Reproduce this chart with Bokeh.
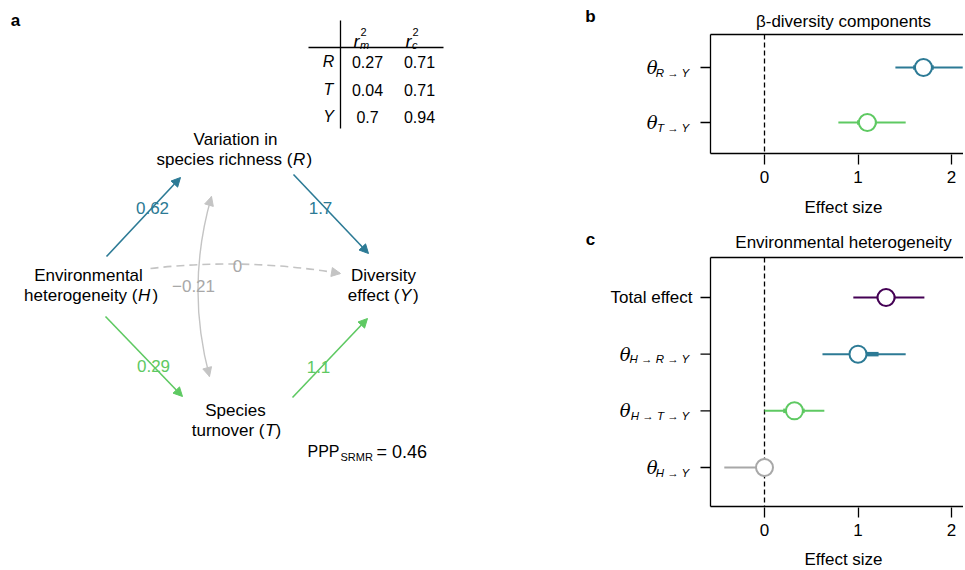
from bokeh.plotting import figure
from bokeh.models import Range1d, Arrow, NormalHead, FixedTicker, ColumnDataSource
from bokeh.layouts import row, column
from bokeh.core.properties import value
from bokeh.embed import file_html
from bokeh.resources import INLINE

# ---------------- data ----------------
# panel a: path coefficients (H->R, R->Y, H->T, T->Y, H->Y, R<->T)
path_coef = [0.62, 1.7, 0.29, 1.1, 0.0, -0.21]
r2_vars = ["R", "T", "Y"]
r2_marginal = [0.27, 0.04, 0.7]
r2_conditional = [0.71, 0.71, 0.94]
ppp_srmr = 0.46

# panel b: beta-diversity components
b_subs = ["R \u2192 Y", "T \u2192 Y"]
b_pos = [2, 1]
b_est = [1.70, 1.10]
b_lo95 = [1.40, 0.79]
b_hi95 = [2.12, 1.51]
b_lo50 = [1.59, 0.99]
b_hi50 = [1.81, 1.20]

# panel c: environmental heterogeneity
c_labels = ["Total effect", "H \u2192 R \u2192 Y", "H \u2192 T \u2192 Y", "H \u2192 Y"]
c_pos = [4, 3, 2, 1]
c_est = [1.30, 1.00, 0.32, 0.00]
c_lo95 = [0.95, 0.62, 0.00, -0.43]
c_hi95 = [1.71, 1.51, 0.64, 0.03]
c_lo50 = [1.20, 0.91, 0.20, -0.05]
c_hi50 = [1.40, 1.22, 0.43, 0.02]

x_ticks = [0, 1, 2]

# ---------------- styles ----------------
PURPLE = "#440154"
BLUE = "#2C7A95"
GREEN = "#5EC962"
GRAY = "#A8A8A8"
LGRAY = "#C4C4C4"
SANS = "Liberation Sans"
SERIF = "DejaVu Serif"

b_colors = [BLUE, GREEN]
c_colors = [PURPLE, BLUE, GREEN, GRAY]


def fmt(v):
    return f"{v:g}".replace("-", "\u2212")


def txt(p, x, y, s, size="17px", color="black", style="normal", align="center",
        baseline="middle", font=SANS, xo=0, yo=0):
    p.text(x=[x], y=[y], text=[s], text_font=value(font), text_font_size=size,
           text_color=color, text_font_style=style, text_align=align,
           text_baseline=baseline, x_offset=xo, y_offset=yo)


# ---------------- panel a (diagram, pixel-like layout space) ----------------
pa = figure(width=580, height=568, x_range=Range1d(0, 580), y_range=Range1d(568, 0),
            output_backend="svg", toolbar_location=None, min_border=0)
pa.axis.visible = False
pa.grid.visible = False
pa.outline_line_color = None
pa.background_fill_color = "white"
pa.border_fill_color = "white"

txt(pa, 15, 20, "a", size="17px", style="bold")

# table of r2
pa.segment(x0=[340, 308], y0=[20, 47], x1=[340, 443], y1=[128, 47],
           line_color="black", line_width=1.3)
col_x = [367, 419]
row_y = [61, 89, 116]
for cx, sub in zip([353, 405], ["m", "c"]):
    txt(pa, cx, 41, "r", size="18px", style="italic", align="left", baseline="alphabetic")
    txt(pa, cx + 6.5, 44, sub, size="11px", style="italic", align="left", baseline="alphabetic")
    txt(pa, cx + 7, 31, "2", size="11px", align="left", baseline="alphabetic")
for i, v in enumerate(r2_vars):
    txt(pa, 328, row_y[i], v, size="16px", style="italic")
    txt(pa, col_x[0], row_y[i], fmt(r2_marginal[i]), size="16px")
    txt(pa, col_x[1], row_y[i], fmt(r2_conditional[i]), size="16px")

# node labels
txt(pa, 235, 139, "Variation in")
txt(pa, 292, 159, "species richness (", align="right")
txt(pa, 292.5, 159, "R", style="italic", align="left")
txt(pa, 306, 159, ")", align="left")

txt(pa, 88, 275, "Environmental")
txt(pa, 137, 295, "heterogeneity (", align="right")
txt(pa, 137.5, 295, "H", style="italic", align="left")
txt(pa, 152, 295, ")", align="left")

txt(pa, 383, 275, "Diversity")
txt(pa, 399, 295, "effect (", align="right")
txt(pa, 399.5, 295, "Y", style="italic", align="left")
txt(pa, 412.5, 295, ")", align="left")

txt(pa, 235, 410, "Species")
txt(pa, 264, 430, "turnover (", align="right")
txt(pa, 264.5, 430, "T", style="italic", align="left")
txt(pa, 275, 430, ")", align="left")

# PPP
txt(pa, 307, 451, "PPP", size="16px", align="left", baseline="alphabetic")
txt(pa, 340, 456, "SRMR", size="11px", align="left", baseline="alphabetic")
txt(pa, 376, 451, "= " + fmt(ppp_srmr), size="18px", align="left", baseline="alphabetic")

# straight paths
straight = [
    ((106, 256), (180, 177), BLUE),
    ((293, 174), (368, 253), BLUE),
    ((105, 316), (182, 396), GREEN),
    ((292, 397), (367, 318), GREEN),
]
for (s, e, c) in straight:
    pa.add_layout(Arrow(end=NormalHead(size=9, fill_color=c, line_color=c, line_width=1),
                        x_start=s[0], y_start=s[1], x_end=e[0], y_end=e[1],
                        line_color=c, line_width=1.6))


def head(p, end, ctrl, c):
    dx, dy = end[0] - ctrl[0], end[1] - ctrl[1]
    n = (dx * dx + dy * dy) ** 0.5
    st = (end[0] - dx / n * 4, end[1] - dy / n * 4)
    p.add_layout(Arrow(end=NormalHead(size=9, fill_color=c, line_color=c, line_width=1),
                       x_start=st[0], y_start=st[1], x_end=end[0], y_end=end[1],
                       line_color=c, line_width=1.4))


hy0, hyc, hy1 = (150, 268), (245, 257), (340, 273)
pa.quadratic(x0=[hy0[0]], y0=[hy0[1]], x1=[hy1[0]], y1=[hy1[1]], cx=[hyc[0]], cy=[hyc[1]],
             line_color=LGRAY, line_width=1.6, line_dash="8 5")
head(pa, hy1, hyc, LGRAY)

rt0, rtc, rt1 = (211, 196), (185, 286), (209, 376)
pa.quadratic(x0=[rt0[0]], y0=[rt0[1]], x1=[rt1[0]], y1=[rt1[1]], cx=[rtc[0]], cy=[rtc[1]],
             line_color=LGRAY, line_width=1.4)
head(pa, rt0, rtc, LGRAY)
head(pa, rt1, rtc, LGRAY)

coef_pos = [(152, 207), (320, 207), (153, 365), (318, 366), (237, 265), (193, 285)]
coef_col = [BLUE, BLUE, GREEN, GREEN, GRAY, GRAY]
for (x, y), v, c in zip(coef_pos, path_coef, coef_col):
    txt(pa, x, y, fmt(v), color=c)


# ---------------- panels b, c ----------------
PX0, PXU = 764.0, 93.5          # pixel of x=0 and pixels per unit
CANVAS_L, CANVAS_R = 580, 963
xd = lambda px: (px - PX0) / PXU
X_RANGE = (xd(CANVAS_L), xd(CANVAS_R))


def panel(height, yd, canvas_top, box_top, box_bottom, cats):
    p = figure(width=CANVAS_R - CANVAS_L, height=height,
               x_range=Range1d(*X_RANGE),
               y_range=Range1d(yd(canvas_top + height), yd(canvas_top)),
               output_backend="svg", toolbar_location=None, min_border=0)
    p.grid.visible = False
    p.outline_line_color = None
    p.background_fill_color = "white"
    p.border_fill_color = "white"
    p.yaxis.visible = False
    xa = p.xaxis[0]
    xa.fixed_location = yd(box_bottom + 0.5)
    xa.ticker = FixedTicker(ticks=x_ticks)
    xa.axis_line_color = None
    xa.major_tick_out = 10
    xa.major_tick_in = 0
    xa.major_tick_line_color = "black"
    xa.major_tick_line_width = 1.3
    xa.minor_tick_line_color = None
    xa.major_label_text_font = SANS
    xa.major_label_text_font_size = "17px"
    xa.major_label_text_color = "black"
    xa.major_label_standoff = 7
    # box (left, top, bottom sides; right side is beyond the cut)
    bl, br = xd(710), xd(980)
    p.segment(x0=[bl, bl, bl], y0=[yd(box_top), yd(box_top), yd(box_bottom)],
              x1=[bl, br, br], y1=[yd(box_bottom), yd(box_top), yd(box_bottom)],
              line_color="black", line_width=1.3)
    # y ticks
    p.segment(x0=[xd(700)] * len(cats), x1=[bl] * len(cats), y0=cats, y1=cats,
              line_color="black", line_width=1.3)
    # zero reference line
    p.segment(x0=[0], x1=[0], y0=[yd(box_top)], y1=[yd(box_bottom)], line_color="black",
              line_width=1.3, line_dash="5 3")
    return p


def intervals(p, pos, est, lo95, hi95, lo50, hi50, colors):
    src = ColumnDataSource(dict(y=pos, est=est, lo95=lo95, hi95=hi95, lo50=lo50,
                                hi50=hi50, c=colors))
    p.segment(x0="lo95", x1="hi95", y0="y", y1="y", line_color="c", line_width=2, source=src)
    p.segment(x0="lo50", x1="hi50", y0="y", y1="y", line_color="c", line_width=4.5, source=src)
    p.scatter(x="est", y="y", marker="circle", size=17, fill_color="white",
              line_color="c", line_width=2, source=src)


def theta(p, y, sub):
    # subscript right-aligned next to the tick, theta just left of it
    p.text(x=[xd(689)], y=[y], text=[sub], text_font=value(SANS), text_font_style="italic",
           text_font_size="11.5px", text_align="right", text_baseline="middle", y_offset=5)
    n = sub.count("\u2192")
    xt = 630 if n == 2 else 657
    p.text(x=[xd(xt)], y=[y], text=["\u03b8"], text_font=value(SERIF),
           text_font_style="italic", text_font_size="18px", text_align="right",
           text_baseline="middle")


# panel b
yb = lambda py: 1 + (122 - py) / 55.0
pb = panel(222, yb, 0, 34, 153, b_pos)
intervals(pb, b_pos, b_est, b_lo95, b_hi95, b_lo50, b_hi50, b_colors)
for yv, s in zip(b_pos, b_subs):
    theta(pb, yv, s)
txt(pb, xd(843), yb(21), "\u03b2-diversity components")
txt(pb, xd(590), yb(16), "b", style="bold")
txt(pb, xd(843), yb(207), "Effect size")

# panel c (its canvas starts at page y 222)
yc = lambda py: 1 + (467 - py) / 56.67
pc = panel(346, yc, 222, 257, 506, c_pos)
intervals(pc, c_pos, c_est, c_lo95, c_hi95, c_lo50, c_hi50, c_colors)
txt(pc, xd(692), c_pos[0], c_labels[0], align="right")
for yv, s in zip(c_pos[1:], c_labels[1:]):
    theta(pc, yv, s)
txt(pc, xd(843), yc(242), "Environmental heterogeneity")
txt(pc, xd(590), yc(239), "c", style="bold")
txt(pc, xd(843), yc(559), "Effect size")

layout = row(pa, column(pb, pc, spacing=0), spacing=0)
open("out.html", "w").write(file_html(layout, INLINE))
